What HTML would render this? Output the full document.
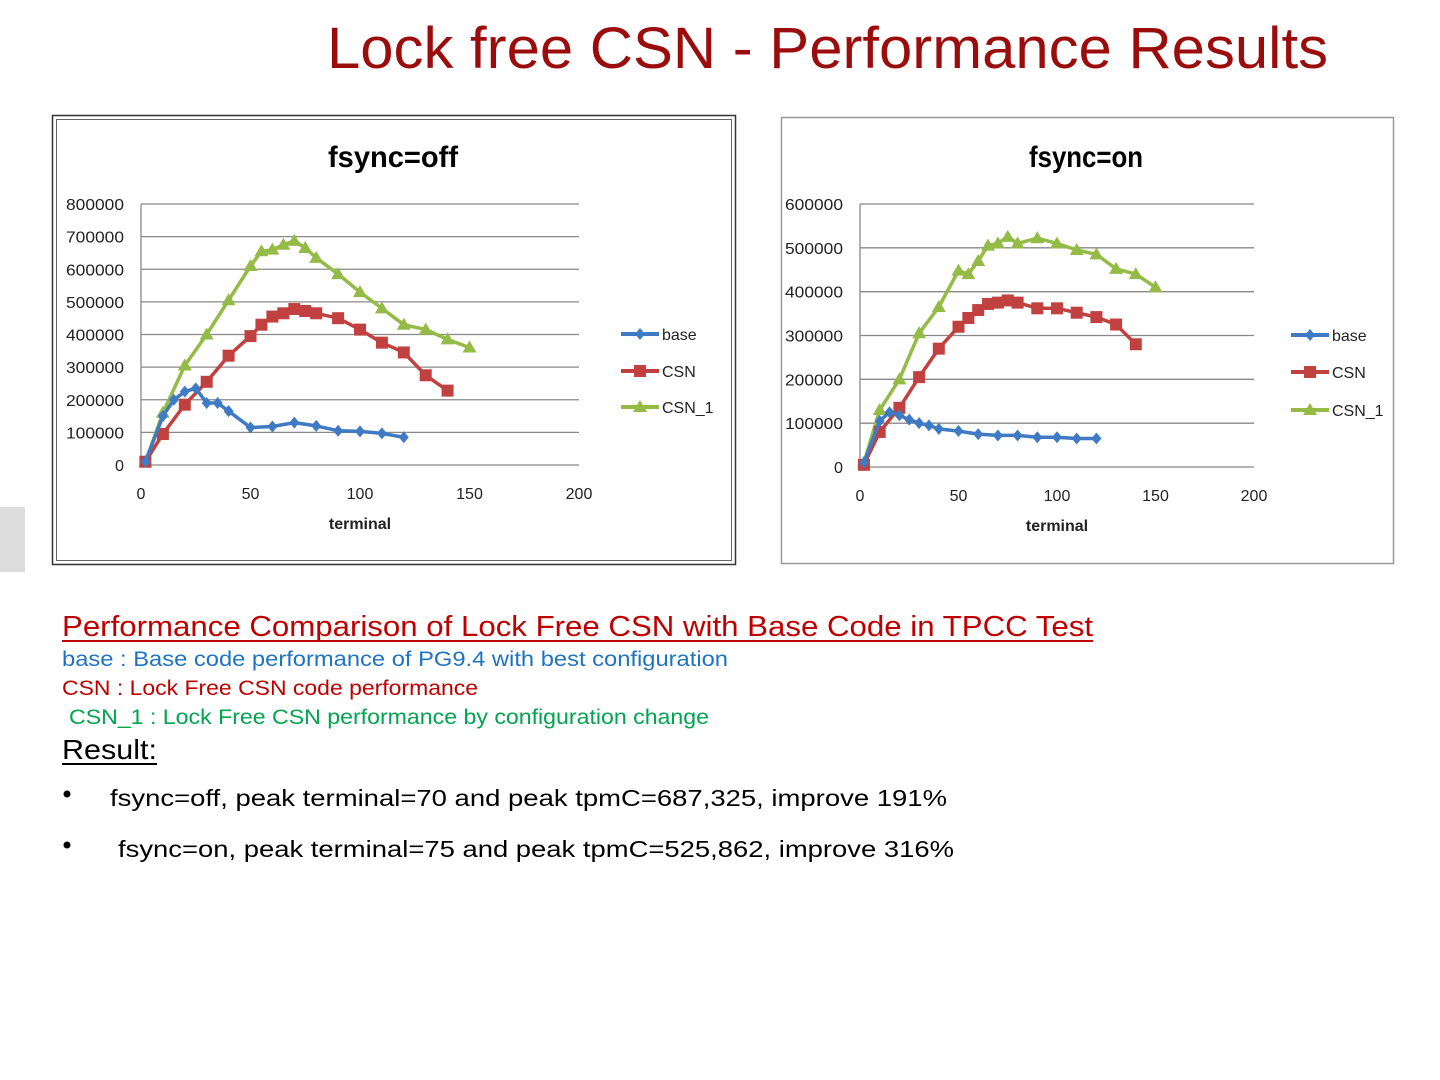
<!DOCTYPE html>
<html><head><meta charset="utf-8"><style>
html,body{margin:0;padding:0;background:#fff;}
svg{display:block;font-family:"Liberation Sans",sans-serif;}
</style></head><body>
<svg id="s" width="1440" height="1080" viewBox="0 0 1440 1080" xmlns="http://www.w3.org/2000/svg">
<rect x="0" y="0" width="1440" height="1080" fill="#fff"/>
<text x="327" y="68" font-size="58" fill="#9b0d0d" textLength="1001" lengthAdjust="spacingAndGlyphs">Lock free CSN - Performance Results</text>
<rect x="0" y="507" width="25" height="65" fill="#dcdcdc"/>
<!-- chart frames -->
<rect x="52.5" y="115.5" width="683" height="449" fill="#fff" stroke="#333" stroke-width="1.5"/>
<rect x="56.5" y="119.5" width="675" height="441" fill="none" stroke="#666" stroke-width="1"/>
<rect x="781.5" y="117.5" width="612" height="446" fill="#fff" stroke="#999" stroke-width="1.5"/>
<g id="g"></g>
<!-- text below -->
<text x="62" y="636" font-size="29" fill="#c00000" textLength="1031" lengthAdjust="spacingAndGlyphs">Performance Comparison of Lock Free CSN with Base Code in TPCC Test</text>
<rect x="62" y="640" width="1031" height="2" fill="#c00000"/>
<text x="62" y="666" font-size="21" fill="#1f74c1" textLength="666" lengthAdjust="spacingAndGlyphs">base : Base code performance of PG9.4 with best configuration</text>
<text x="62" y="695" font-size="21" fill="#c00000" textLength="416" lengthAdjust="spacingAndGlyphs">CSN : Lock Free CSN code performance</text>
<text x="69" y="724" font-size="21" fill="#00a550" textLength="640" lengthAdjust="spacingAndGlyphs">CSN_1 : Lock Free CSN performance by configuration change</text>
<text x="62" y="759" font-size="28" fill="#000" textLength="95" lengthAdjust="spacingAndGlyphs">Result:</text>
<rect x="62" y="763" width="95" height="2" fill="#000"/>
<circle cx="67" cy="794" r="3.5" fill="#000"/>
<text x="110" y="806" font-size="23" fill="#000" textLength="837" lengthAdjust="spacingAndGlyphs">fsync=off, peak terminal=70 and peak tpmC=687,325, improve 191%</text>
<circle cx="67" cy="845" r="3.5" fill="#000"/>
<text x="118" y="857" font-size="23" fill="#000" textLength="836" lengthAdjust="spacingAndGlyphs">fsync=on, peak terminal=75 and peak tpmC=525,862, improve 316%</text>
</svg>
<script>
var NS="http://www.w3.org/2000/svg",G=document.getElementById("g");
function el(t,a,txt){var e=document.createElementNS(NS,t);for(var k in a)e.setAttribute(k,a[k]);if(txt!=null)e.textContent=txt;G.appendChild(e);return e;}
var C={base:"#3f7ac4",csn:"#c0413f",c1:"#93bb45"};
function marker(type,x,y){
 if(type=="base")el("polygon",{points:(x)+","+(y-6)+" "+(x+5)+","+y+" "+x+","+(y+6)+" "+(x-5)+","+y,fill:C.base});
 else if(type=="csn")el("rect",{x:x-6,y:y-6,width:12,height:12,fill:C.csn});
 else el("polygon",{points:x+","+(y-7)+" "+(x+7)+","+(y+5)+" "+(x-7)+","+(y+5),fill:C.c1});
}
function chart(o){
 var X=function(v){return o.x0+v*(o.x1-o.x0)/200},Y=function(v){return o.y0-v*(o.y0-o.y1)/o.max};
 el("text",{x:o.tx,y:167,"font-size":30,"font-weight":"bold","text-anchor":"middle",fill:"#000",textLength:o.tw,lengthAdjust:"spacingAndGlyphs"},o.title);
 for(var v=0;v<=o.max;v+=100){
  var y=Y(v);
  el("line",{x1:o.x0,x2:o.x1,y1:y,y2:y,stroke:"#888","stroke-width":1.3});
  el("text",{x:o.x0-17,y:y+6,"font-size":16,"text-anchor":"end",fill:"#222",textLength:v?58:9,lengthAdjust:"spacingAndGlyphs"},v?v*1000:"0");
 }
 el("line",{x1:o.x0,x2:o.x0,y1:o.y1,y2:o.y0,stroke:"#888","stroke-width":1.3});
 for(var t=0;t<=200;t+=50)el("text",{x:X(t),y:o.y0+34,"font-size":16,"text-anchor":"middle",fill:"#222"},t);
 el("text",{x:(o.x0+o.x1)/2,y:o.y0+64,"font-size":16,"font-weight":"bold","text-anchor":"middle",fill:"#222"},"terminal");
 ["c1","csn","base"].forEach(function(k){
  var d=o.d[k],p=d.map(function(q){return X(q[0]).toFixed(1)+","+Y(q[1]).toFixed(1)}).join(" ");
  el("polyline",{points:p,fill:"none",stroke:C[k],"stroke-width":3.5,"stroke-linejoin":"round"});
  d.forEach(function(q){marker(k,X(q[0]),Y(q[1]))});
 });
 var L=[["base","base"],["csn","CSN"],["c1","CSN_1"]];
 L.forEach(function(l,i){var y=o.ly[i];
  el("line",{x1:o.lx,x2:o.lx+38,y1:y,y2:y,stroke:C[l[0]],"stroke-width":4});
  marker(l[0],o.lx+19,y);
  el("text",{x:o.lx+41,y:y+6,"font-size":16,fill:"#222"},l[1]);
 });
}
chart({x0:141,x1:579,y0:465,y1:204,max:800,title:"fsync=off",tx:393,tw:130,lx:621,ly:[334,371,407],
 d:{base:[[2,10],[10,150],[15,200],[20,225],[25,235],[30,190],[35,190],[40,165],[50,115],[60,118],[70,130],[80,120],[90,105],[100,103],[110,97],[120,85]],
 csn:[[2,10],[10,95],[20,185],[30,255],[40,335],[50,395],[55,430],[60,455],[65,465],[70,478],[75,472],[80,465],[90,450],[100,415],[110,375],[120,345],[130,275],[140,228]],
 c1:[[2,10],[10,160],[20,305],[30,400],[40,505],[50,610],[55,655],[60,660],[65,675],[70,687],[75,665],[80,635],[90,585],[100,530],[110,480],[120,430],[130,415],[140,385],[150,360]]}});
chart({x0:860,x1:1254,y0:467,y1:204,max:600,title:"fsync=on",tx:1086,tw:114,lx:1291,ly:[335,372,410],
 d:{base:[[2,10],[10,105],[15,125],[20,118],[25,108],[30,100],[35,95],[40,87],[50,82],[60,75],[70,72],[80,72],[90,68],[100,68],[110,65],[120,65]],
 csn:[[2,5],[10,80],[20,135],[30,205],[40,270],[50,320],[55,340],[60,358],[65,372],[70,375],[75,380],[80,375],[90,362],[100,362],[110,352],[120,342],[130,325],[140,280]],
 c1:[[2,10],[10,130],[20,200],[30,305],[40,365],[50,448],[55,440],[60,470],[65,505],[70,510],[75,525],[80,510],[90,522],[100,510],[110,495],[120,485],[130,452],[140,440],[150,410]]}});
</script>
</body></html>
